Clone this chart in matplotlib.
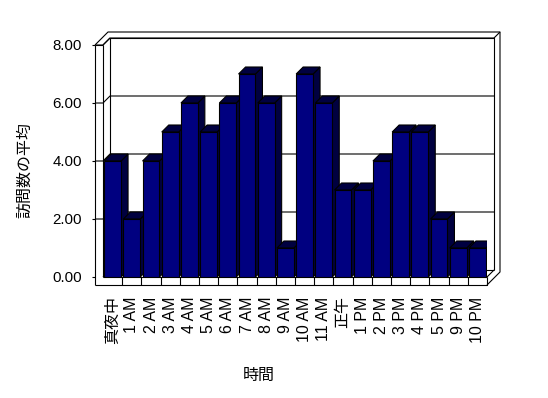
import matplotlib
matplotlib.use("Agg")
import matplotlib.pyplot as plt
from matplotlib.patches import Polygon
import numpy as np

plt.rcParams['font.family'] = ['Liberation Sans', 'Noto Sans CJK JP', 'DejaVu Sans']

# データ
hours = ['真夜中', '1 AM', '2 AM', '3 AM', '4 AM', '5 AM', '6 AM', '7 AM', '8 AM', '9 AM',
         '10 AM', '11 AM', '正午', '1 PM', '2 PM', '3 PM', '4 PM', '5 PM', '9 PM', '10 PM']
visits = [4, 2, 4, 5, 6, 5, 6, 7, 6, 1, 7, 6, 3, 3, 4, 5, 5, 2, 1, 1]
yticks = [0, 2, 4, 6, 8]

front_color = '#000080'
depth_color = '#000040'

W, H = 548, 398
fig = plt.figure(figsize=(W / 100, H / 100), dpi=100)
fig.patch.set_facecolor('white')
ax = fig.add_axes([103 / W, 121 / H, 384 / W, 232 / H])
n = len(hours)
ax.set_xlim(0, n)
ax.set_ylim(0, 8)
for s in ax.spines.values():
    s.set_visible(False)
ax.patch.set_visible(False)

# ピクセル -> データ単位
bb = ax.get_window_extent()
ux = n / bb.width
uy = 8 / bb.height
dpx = 7
dx, dy = dpx * ux, dpx * uy
th = 8  # 壁・床の厚み(px)
bk = 13  # 奥の壁の外側まで(px)

lk = dict(color='black', lw=0.8, clip_on=False, solid_capstyle='butt')

def line(xs, ys, z=1):
    ax.plot(xs, ys, zorder=z, **lk)

# 奥の壁
line([dx, dx, n + dx, n + dx], [dy, 8 + dy, 8 + dy, dy])
line([n + dx, n + bk * ux], [8 + dy, 8 + bk * uy])
line([-th * ux, -th * ux + bk * ux, n + bk * ux, n + bk * ux, n],
     [8, 8 + bk * uy, 8 + bk * uy, -th * uy + bk * uy, -th * uy])
line([0, dx], [8, 8 + dy])
# 左の壁（前面）
line([-th * ux, -th * ux], [-th * uy, 8])
line([0, 0], [0, 8])
line([-th * ux, 0], [8, 8])
# 床
line([-th * ux, n, n], [-th * uy, -th * uy, 0])
line([0, n], [0, 0])
line([0, dx], [0, dy])
line([n, n + dx], [0, dy])
line([dx, n + dx], [dy, dy])
for i in range(1, n):
    line([i, i], [-th * uy, 0])

# 目盛線
for v in yticks:
    line([-(th + 3) * ux, -th * ux], [v, v])
    if v > 0:
        line([-th * ux, 0, dx, n + dx], [v, v, v + dy, v + dy])

# 棒
xpos = np.arange(n) + 0.5
bw = 0.88
for i, (x, h) in enumerate(zip(xpos, visits)):
    x0, x1 = x - bw / 2, x + bw / 2
    z = 3 + i * 2
    top = Polygon([(x0, h), (x1, h), (x1 + dx, h + dy), (x0 + dx, h + dy)],
                  closed=True, fc=depth_color, ec='black', lw=0.8, zorder=z)
    side = Polygon([(x1, 0), (x1 + dx, dy), (x1 + dx, h + dy), (x1, h)],
                   closed=True, fc=depth_color, ec='black', lw=0.8, zorder=z)
    ax.add_patch(side)
    ax.add_patch(top)
    ax.bar(x, h, width=bw, color=front_color, edgecolor='black', linewidth=0.8, zorder=z + 1)

# 軸ラベル
ax.set_yticks(yticks)
ax.set_yticklabels([f'{v:.2f}' for v in yticks], fontsize=10.8)
ax.tick_params(axis='y', length=0, pad=15)
ax.set_xticks(xpos)
ax.set_xticklabels(hours, rotation=90, fontsize=11.5)
ax.tick_params(axis='x', length=0, pad=14)

fig.text(25 / W, 1 - 170 / H, '訪問数の平均', rotation=90, ha='center', va='center',
         fontsize=11.5, family=['Noto Sans CJK JP', 'DejaVu Sans'])
fig.text(259 / W, 1 - 375 / H, '時間', ha='center', va='center',
         fontsize=11.5, family=['Noto Sans CJK JP', 'DejaVu Sans'])

fig.savefig('out.png', dpi=100, facecolor='white')
